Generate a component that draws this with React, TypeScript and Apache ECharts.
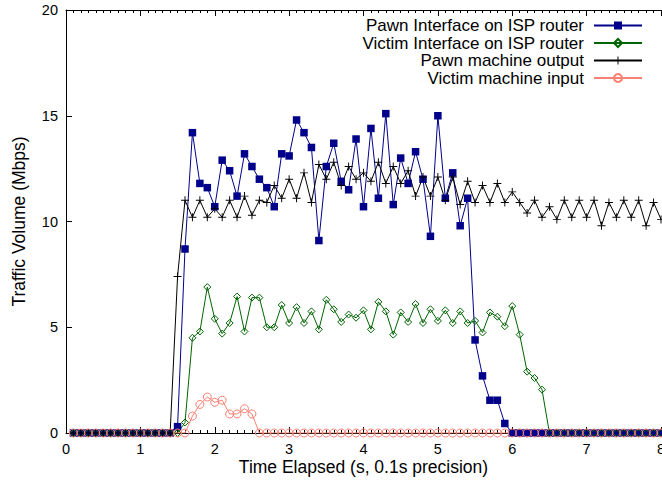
import React, { useEffect, useRef } from "react";
import * as echarts from "echarts";

// time stamps 0.1 .. 8.0 s (0.1 s precision)
const times: number[] = Array.from({ length: 80 }, (_, i) => (i + 1) / 10);

const zeros = (n: number) => Array.from({ length: n }, () => 0);

const pawnInterface: number[] = [
  ...zeros(14),
  0.3, 8.7, 14.2, 11.8, 11.6, 10.7, 12.9, 12.4, 11.2, 13.2,
  12.6, 12.0, 11.6, 10.7, 13.2, 13.1, 14.8, 14.2, 13.5, 9.1,
  12.6, 13.7, 11.9, 11.5, 13.9, 10.7, 14.4, 11.1, 15.1, 10.8,
  13.0, 11.8, 13.3, 12.0, 9.3, 15.0, 11.1, 12.3, 9.8, 11.1,
  4.4, 2.7, 1.55, 1.55, 0.45,
  ...zeros(21),
];

const victimInterface: number[] = [
  ...zeros(15),
  0.5, 4.5, 4.8, 6.9, 5.4, 4.7, 5.2, 6.45, 4.8, 6.4,
  6.4, 5.0, 5.0, 6.05, 5.2, 5.95, 5.2, 5.75, 4.9, 6.3,
  5.85, 5.25, 5.6, 5.45, 5.8, 4.9, 6.2, 5.75, 4.65, 5.7,
  5.25, 6.1, 5.2, 5.85, 5.3, 5.8, 5.2, 5.75, 5.2, 5.3,
  4.75, 5.7, 5.5, 5.05, 6.0, 4.65, 2.9, 2.6, 2.05,
  ...zeros(16),
];

const pawnOutput: number[] = [
  ...zeros(14),
  7.4, 11.0, 10.2, 11.0, 10.2, 10.6, 10.2, 11.0, 10.2, 11.2,
  10.3, 11.0, 10.9, 11.7, 11.1, 12.0, 11.1, 12.3, 10.9, 12.7,
  12.0, 12.8, 11.7, 12.6, 12.0, 12.3, 11.9, 12.8, 11.8, 12.6,
  11.8, 12.4, 11.2, 12.1, 11.2, 12.1, 11.0, 12.1, 10.8, 11.9,
  10.9, 11.7, 10.9, 11.8, 10.9, 11.4, 10.9, 10.4, 11.0, 10.2,
  10.7, 10.1, 11.0, 10.2, 11.0, 10.2, 11.0, 9.8, 10.9, 10.2,
  11.0, 10.2, 11.0, 9.8, 10.9, 10.1,
];

const victimInput: number[] = [
  ...zeros(16),
  0.8, 1.35, 1.7, 1.45, 1.55, 0.9, 0.9, 1.15, 0.9,
  ...zeros(55),
];

const seriesNames = [
  "Pawn Interface on ISP router",
  "Victim Interface on ISP router",
  "Pawn machine output",
  "Victim machine input",
];

const xTicks = [0, 1, 2, 3, 4, 5, 6, 7, 8];
const yTicks = [0, 5, 10, 15, 20];

const FONT = "Liberation Sans, Arial, Helvetica, sans-serif";
const BLUE = "#00008b";
const GREEN = "#006400";
const BLACK = "#000000";
const SALMON = "#fa8072";

const pair = (vals: number[]) => times.map((t, i) => [t, vals[i]]);

const PLUS = "path://M4.4,0h1.2v4.4h4.4v1.2h-4.4v4.4h-1.2v-4.4h-4.4v-1.2h4.4z";

export default function App() {
  const ref = useRef<HTMLDivElement>(null);

  useEffect(() => {
    if (!ref.current) return;
    const chart = echarts.init(ref.current, undefined, { renderer: "svg" });

    const xCommon = {
      type: "value" as const,
      min: xTicks[0],
      max: xTicks[xTicks.length - 1],
      interval: 1,
      splitLine: { show: false },
      axisLine: { show: true, onZero: false, lineStyle: { color: "#000", width: 1 } },
      axisTick: { show: true, inside: true, length: 6, lineStyle: { color: "#000" } },
      minorTick: { show: true, splitNumber: 10, length: 3, lineStyle: { color: "#000" } },
    };

    const option: any = {
      animation: false,
      backgroundColor: "#fff",
      grid: {
        left: 66,
        right: 1,
        top: 10,
        bottom: 47,
        containLabel: false,
        outerBoundsMode: "none",
      },
      legend: {
        show: true,
        orient: "vertical",
        align: "right",
        right: 19,
        top: 17,
        padding: 0,
        itemGap: 0.5,
        itemWidth: 48,
        itemHeight: 10,
        data: seriesNames,
        textStyle: {
          fontFamily: FONT,
          fontSize: 17,
          lineHeight: 17,
          color: "#000",
          padding: [0, 5, 0, 0],
        },
      },
      xAxis: [
        {
          ...xCommon,
          position: "bottom",
          name: "Time Elapsed (s, 0.1s precision)",
          nameLocation: "middle",
          nameGap: 25.5,
          nameMoveOverlap: false,
          nameTextStyle: { fontFamily: FONT, fontSize: 17.5, lineHeight: 17, color: "#000" },
          axisLabel: {
            show: true,
            margin: 9,
            fontFamily: FONT,
            fontSize: 14.5,
            lineHeight: 14,
            color: "#000",
            formatter: (v: number) => (xTicks.includes(v) ? String(v) : ""),
          },
        },
        {
          ...xCommon,
          position: "top",
          axisLabel: { show: false },
        },
      ],
      yAxis: [
        {
          type: "value",
          min: yTicks[0],
          max: yTicks[yTicks.length - 1],
          interval: 5,
          position: "left",
          name: "Traffic Volume (Mbps)",
          nameLocation: "middle",
          nameGap: 38,
          nameMoveOverlap: false,
          nameTextStyle: { fontFamily: FONT, fontSize: 17.5, color: "#000" },
          splitLine: { show: false },
          axisLine: { show: true, onZero: false, lineStyle: { color: "#000", width: 1 } },
          axisTick: { show: true, inside: true, length: 6, lineStyle: { color: "#000" } },
          axisLabel: {
            show: true,
            margin: 8,
            fontFamily: FONT,
            fontSize: 14.5,
            color: "#000",
          },
        },
      ],
      series: [
        {
          name: seriesNames[0],
          type: "line",
          data: pair(pawnInterface),
          symbol: "rect",
          symbolSize: 7.5,
          showAllSymbol: true,
          lineStyle: { color: BLUE, width: 1 },
          itemStyle: { color: BLUE },
          emphasis: { disabled: true },
        },
        {
          name: seriesNames[1],
          type: "line",
          data: pair(victimInterface),
          symbol: "diamond",
          symbolSize: 7,
          showAllSymbol: true,
          lineStyle: { color: GREEN, width: 1 },
          itemStyle: { color: "rgba(255,255,255,0)", borderColor: GREEN, borderWidth: 1 },
          emphasis: { disabled: true },
        },
        {
          name: seriesNames[2],
          type: "line",
          data: pair(pawnOutput),
          symbol: PLUS,
          symbolSize: 8,
          showAllSymbol: true,
          lineStyle: { color: BLACK, width: 1 },
          itemStyle: { color: BLACK },
          emphasis: { disabled: true },
        },
        {
          name: seriesNames[3],
          type: "line",
          data: pair(victimInput),
          symbol: "circle",
          symbolSize: 8,
          showAllSymbol: true,
          lineStyle: { color: SALMON, width: 1 },
          itemStyle: { color: "rgba(255,255,255,0)", borderColor: SALMON, borderWidth: 1 },
          emphasis: { disabled: true },
        },
      ],
    };

    chart.setOption(option);
    return () => chart.dispose();
  }, []);

  return (
    <div
      ref={ref}
      style={{ position: "fixed", left: 0, top: 0, width: 662, height: 480, background: "#fff" }}
    />
  );
}
